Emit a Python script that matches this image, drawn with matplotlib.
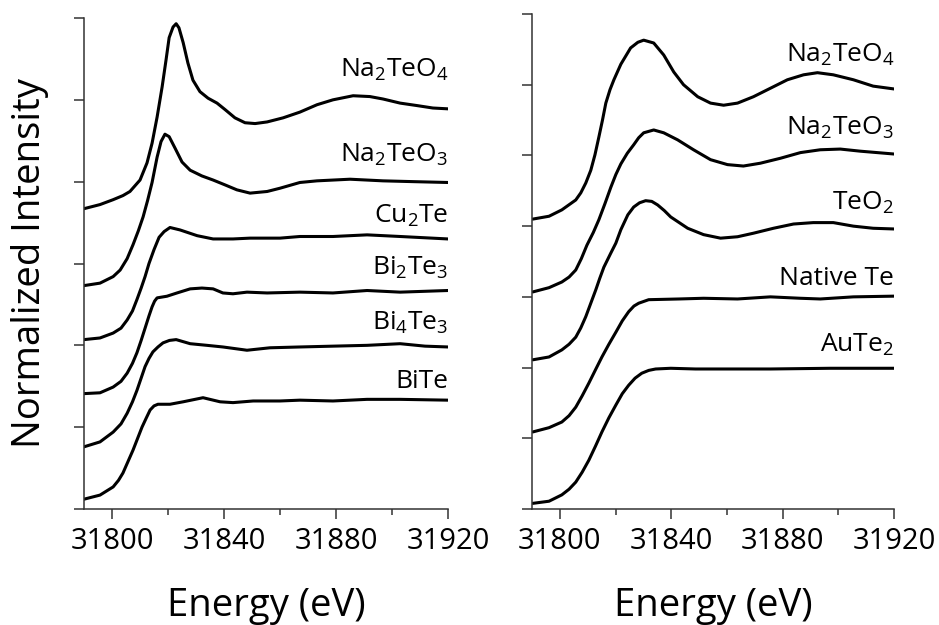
import matplotlib
matplotlib.use("Agg")
import matplotlib.pyplot as plt
from matplotlib.ticker import MultipleLocator

plt.rcParams['font.family'] = ['Open Sans', 'DejaVu Sans']
plt.rcParams['mathtext.fontset'] = 'custom'
plt.rcParams['mathtext.rm'] = 'Open Sans'
plt.rcParams['mathtext.it'] = 'Open Sans'

# --- left panel: Te K-edge XANES of oxides and tellurides (stacked) ---
na2teo4_e = [31790, 31795.7, 31800.4, 31803.9, 31806.4, 31810.0, 31812.5, 31814.3, 31816.1,
             31817.9, 31819.3, 31820.4, 31821.8, 31822.9, 31823.9, 31825.4, 31827.1, 31828.9,
             31831.4, 31834.3, 31837.5, 31840.4, 31843.9, 31847.5, 31851.1, 31855.4, 31861.1,
             31867.1, 31873.2, 31878.9, 31886.1, 31892.1, 31896.8, 31902.9, 31908.9, 31914.6,
             31920]
na2teo4_i = [3.67, 3.72, 3.78, 3.83, 3.88, 4.02, 4.23, 4.47, 4.79,
             5.16, 5.49, 5.76, 5.89, 5.93, 5.88, 5.70, 5.45, 5.24,
             5.10, 5.02, 4.96, 4.88, 4.78, 4.72, 4.71, 4.73, 4.78,
             4.85, 4.94, 5.00, 5.05, 5.04, 5.01, 4.96, 4.93, 4.90,
             4.89]

na2teo3_e = [31790, 31795.7, 31800.4, 31802.9, 31805.4, 31807.5, 31809.4, 31811.1, 31812.7,
             31814.3, 31816.1, 31817.5, 31818.9, 31820.4, 31822.5, 31825.0, 31827.9, 31832.1,
             31836.1, 31840.4, 31844.6, 31849.3, 31855.4, 31860.0, 31867.1, 31873.2, 31885.0,
             31896.8, 31908.0, 31920]
na2teo3_i = [2.73, 2.76, 2.84, 2.92, 3.06, 3.23, 3.40, 3.57, 3.77,
             3.99, 4.30, 4.49, 4.58, 4.55, 4.41, 4.24, 4.14, 4.07,
             4.02, 3.96, 3.90, 3.86, 3.88, 3.92, 3.99, 4.01, 4.03,
             4.01, 4.00, 3.99]

cu2te_e = [31790, 31795.7, 31800.4, 31803.2, 31805.4, 31807.3, 31808.9, 31810.4, 31811.8,
           31813.2, 31815.0, 31816.8, 31818.6, 31820.7, 31824.3, 31830.4, 31836.1, 31843.2,
           31849.3, 31860.0, 31867.1, 31878.9, 31891.1, 31902.9, 31920]
cu2te_i = [2.07, 2.09, 2.15, 2.21, 2.31, 2.42, 2.56, 2.70, 2.84,
           3.00, 3.17, 3.32, 3.39, 3.44, 3.41, 3.34, 3.30, 3.30,
           3.31, 3.31, 3.33, 3.33, 3.35, 3.33, 3.30]

bi2te3_e = [31790, 31795.7, 31800.4, 31803.2, 31805.4, 31807.3, 31808.9, 31810.4, 31811.8,
            31813.2, 31814.3, 31815.2, 31816.1, 31819.6, 31823.2, 31827.9, 31832.1, 31836.1,
            31839.6, 31843.2, 31848.2, 31855.4, 31867.1, 31878.9, 31891.1, 31902.9, 31920]
bi2te3_i = [1.41, 1.42, 1.49, 1.56, 1.66, 1.78, 1.91, 2.06, 2.21,
            2.36, 2.47, 2.54, 2.58, 2.60, 2.64, 2.69, 2.70, 2.69,
            2.64, 2.63, 2.65, 2.64, 2.65, 2.64, 2.67, 2.65, 2.67]

bi4te3_e = [31790, 31795.7, 31800.4, 31803.2, 31805.4, 31807.3, 31808.9, 31810.4, 31811.8,
            31813.2, 31814.6, 31816.4, 31818.2, 31820.5, 31822.9, 31827.9, 31833.9, 31839.6,
            31848.2, 31856.4, 31867.1, 31878.9, 31891.1, 31902.9, 31911.8, 31920]
bi4te3_i = [0.76, 0.82, 0.94, 1.04, 1.17, 1.31, 1.45, 1.60, 1.74,
            1.84, 1.92, 1.98, 2.03, 2.06, 2.07, 2.02, 2.00, 1.98,
            1.94, 1.97, 1.98, 1.99, 2.00, 2.02, 1.99, 1.98]

bite_e = [31790, 31795.7, 31800.4, 31802.3, 31803.9, 31805.7, 31807.5, 31809.1, 31810.7,
          31812.2, 31813.6, 31815.0, 31816.4, 31820.7, 31825.4, 31832.5, 31838.6, 31843.2,
          31850.4, 31860.0, 31867.1, 31878.9, 31891.1, 31902.9, 31920]
bite_i = [0.12, 0.17, 0.27, 0.35, 0.44, 0.58, 0.72, 0.86, 1.00,
          1.11, 1.21, 1.26, 1.28, 1.28, 1.31, 1.36, 1.31, 1.30,
          1.32, 1.32, 1.33, 1.32, 1.34, 1.34, 1.33]

left_names = [r'$\mathregular{Na_2TeO_4}$', r'$\mathregular{Na_2TeO_3}$', r'$\mathregular{Cu_2Te}$',
              r'$\mathregular{Bi_2Te_3}$', r'$\mathregular{Bi_4Te_3}$', 'BiTe']
left_label_y = [5.28, 4.24, 3.50, 2.86, 2.19, 1.48]

# --- right panel ---
r_na2teo4_e = [31790.3, 31796.1, 31800.7, 31805.7, 31807.5, 31809.3, 31811.1, 31812.6, 31814.0,
               31815.3, 31816.5, 31818.0, 31819.4, 31821.9, 31825.4, 31828.0, 31830.1, 31833.7,
               31837.3, 31840.9, 31844.4, 31849.5, 31854.1, 31858.8, 31863.8, 31869.5, 31875.6,
               31881.7, 31887.5, 31892.5, 31898.2, 31905.4, 31912.5, 31920]
r_na2teo4_i = [4.10, 4.14, 4.23, 4.37, 4.47, 4.61, 4.79, 5.01, 5.26,
               5.50, 5.74, 5.93, 6.07, 6.29, 6.52, 6.60, 6.63, 6.59,
               6.42, 6.18, 6.00, 5.83, 5.74, 5.71, 5.74, 5.83, 5.95,
               6.07, 6.14, 6.17, 6.14, 6.07, 5.98, 5.94]

r_na2teo3_e = [31790.3, 31796.1, 31800.7, 31803.3, 31805.7, 31807.7, 31809.7, 31812.0, 31814.0,
               31816.2, 31818.3, 31820.1, 31821.9, 31824.2, 31826.5, 31828.3, 31830.1, 31833.7,
               31837.3, 31842.3, 31848.0, 31854.1, 31860.2, 31865.9, 31872.0, 31879.2, 31886.4,
               31893.5, 31900.7, 31907.9, 31920]
r_na2teo3_i = [3.07, 3.13, 3.21, 3.28, 3.38, 3.54, 3.73, 3.91, 4.09,
               4.32, 4.55, 4.73, 4.88, 5.03, 5.15, 5.25, 5.32, 5.36,
               5.32, 5.22, 5.08, 4.94, 4.87, 4.85, 4.89, 4.96, 5.04,
               5.08, 5.09, 5.06, 5.02]

teo2_e = [31790.3, 31796.1, 31800.7, 31803.3, 31805.7, 31807.5, 31809.3, 31811.1, 31812.9,
          31814.3, 31815.8, 31818.3, 31820.1, 31821.9, 31824.4, 31826.5, 31828.6, 31830.8,
          31833.0, 31835.1, 31837.5, 31839.8, 31845.9, 31851.6, 31857.7, 31863.8, 31869.5,
          31876.7, 31883.9, 31891.0, 31898.2, 31905.4, 31912.5, 31920]
teo2_i = [2.11, 2.15, 2.25, 2.33, 2.43, 2.56, 2.72, 2.91, 3.10,
          3.26, 3.42, 3.62, 3.76, 3.95, 4.16, 4.27, 4.33, 4.36,
          4.35, 4.30, 4.22, 4.13, 3.97, 3.88, 3.83, 3.85, 3.90,
          3.97, 4.03, 4.05, 4.05, 4.00, 3.97, 3.96]

native_te_e = [31790.3, 31796.1, 31800.7, 31803.3, 31805.7, 31808.0, 31810.4, 31812.8, 31815.1,
               31817.6, 31820.1, 31822.4, 31824.7, 31826.6, 31828.3, 31831.9, 31842.7, 31851.6,
               31863.8, 31875.6, 31886.4, 31893.5, 31905.4, 31920]
native_te_i = [1.09, 1.15, 1.23, 1.32, 1.44, 1.60, 1.78, 1.97, 2.15,
               2.33, 2.50, 2.66, 2.79, 2.87, 2.91, 2.96, 2.97, 2.98,
               2.97, 3.00, 2.98, 2.97, 3.00, 3.01]

aute2_e = [31790.3, 31796.1, 31800.7, 31803.3, 31805.7, 31808.0, 31810.4, 31812.8, 31815.1,
           31817.6, 31820.1, 31822.4, 31824.7, 31827.0, 31829.4, 31831.9, 31834.4, 31839.8,
           31848.7, 31860.6, 31875.6, 31897.1, 31920]
aute2_i = [0.08, 0.11, 0.20, 0.28, 0.38, 0.52, 0.69, 0.89, 1.09,
           1.29, 1.47, 1.63, 1.75, 1.85, 1.92, 1.96, 1.98, 1.99,
           1.98, 1.98, 1.98, 1.99, 1.99]

right_names = [r'$\mathregular{Na_2TeO_4}$', r'$\mathregular{Na_2TeO_3}$', r'$\mathregular{TeO_2}$',
               'Native Te', r'$\mathregular{AuTe_2}$']
right_label_y = [6.32, 5.29, 4.23, 3.17, 2.22]

x_ticks = [31800, 31840, 31880, 31920]

fig = plt.figure(figsize=(9.39, 6.25), dpi=100)
ax1 = fig.add_axes([0.0895, 0.1856, 0.3876, 0.7856])
ax2 = fig.add_axes([0.5666, 0.1856, 0.3855, 0.7920])

left_series = [(na2teo4_e, na2teo4_i), (na2teo3_e, na2teo3_i), (cu2te_e, cu2te_i),
               (bi2te3_e, bi2te3_i), (bi4te3_e, bi4te3_i), (bite_e, bite_i)]
right_series = [(r_na2teo4_e, r_na2teo4_i), (r_na2teo3_e, r_na2teo3_i), (teo2_e, teo2_i),
                (native_te_e, native_te_i), (aute2_e, aute2_i)]

for ax, series, names, lab_y, ytop in [(ax1, left_series, left_names, left_label_y, 6),
                                        (ax2, right_series, right_names, right_label_y, 7)]:
    for e, i in series:
        ax.plot(e, i, color='black', lw=2.2, solid_capstyle='round', solid_joinstyle='round')
    for name, y in zip(names, lab_y):
        ax.text(31920, y, name, ha='right', va='baseline', fontsize=19)
    ax.set_xlim(31790, 31920)
    ax.set_ylim(0, ytop)
    ax.set_xticks(x_ticks)
    ax.xaxis.set_minor_locator(MultipleLocator(20))
    ax.yaxis.set_major_locator(MultipleLocator(1))
    ax.set_yticklabels([])
    ax.spines['top'].set_visible(False)
    ax.spines['right'].set_visible(False)
    for s in ['left', 'bottom']:
        ax.spines[s].set_linewidth(1.1)
        ax.spines[s].set_color('#333333')
    ax.tick_params(axis='both', which='major', length=7, width=1.1, color='#333333',
                   labelsize=21, pad=6)
    ax.tick_params(axis='x', which='minor', length=4, width=1.1, color='#333333')
    ax.set_xlabel('Energy (eV)', fontsize=27.5, labelpad=22)

ax1.set_ylabel('Normalized Intensity', fontsize=27.5, labelpad=12)

fig.savefig('out.png', dpi=100)
